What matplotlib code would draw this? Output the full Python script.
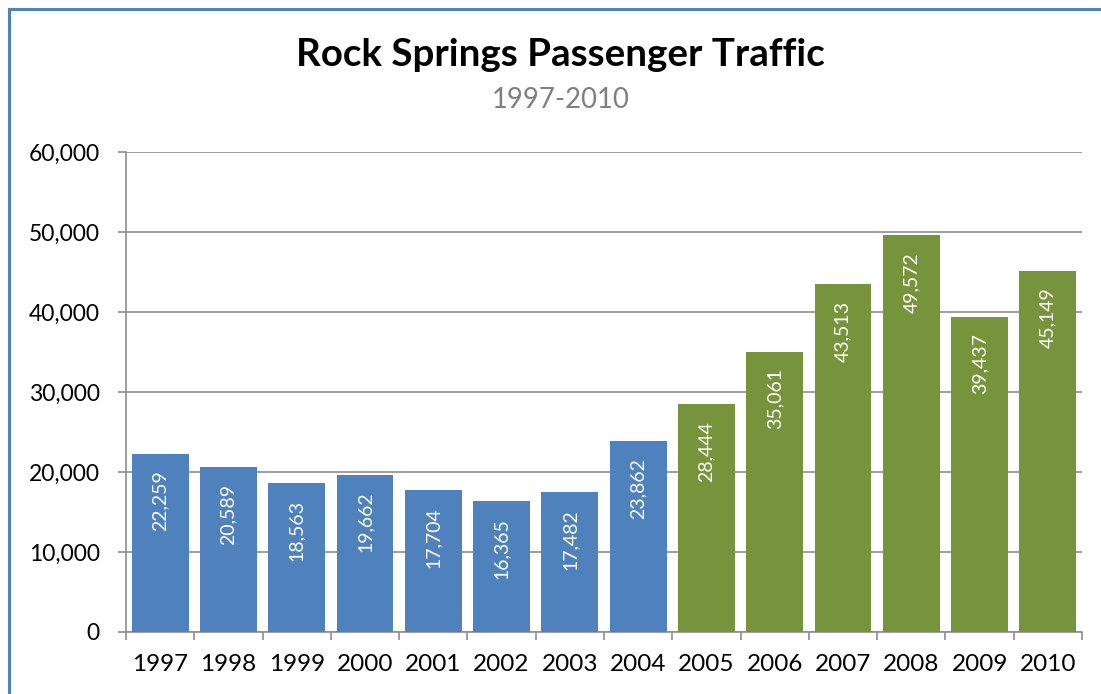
import matplotlib
matplotlib.use("Agg")
import matplotlib.pyplot as plt
from matplotlib.lines import Line2D
from matplotlib.ticker import FuncFormatter, FixedLocator

years = ["1997", "1998", "1999", "2000", "2001", "2002", "2003",
         "2004", "2005", "2006", "2007", "2008", "2009", "2010"]
passengers = [22259, 20589, 18563, 19662, 17704, 16365, 17482,
              23862, 28444, 35061, 43513, 49572, 39437, 45149]
blue_years = 8  # 1997-2004 blue, 2005-2010 green

title = "Rock Springs Passenger Traffic"
subtitle = "1997-2010"

plt.rcParams['font.family'] = ['Lato', 'DejaVu Sans']

fig = plt.figure(figsize=(11.01, 6.94), dpi=100)
ax = fig.add_axes([126/1101, 1-632/694, (1082-126)/1101, (632-152)/694])

colors = ["#4F81BD" if i < blue_years else "#77933C" for i in range(len(years))]
x = list(range(len(years)))
ax.bar(x, passengers, width=0.833, color=colors, zorder=3)

for xi, v in zip(x, passengers):
    ax.annotate(f"{v:,}", (xi, v), xytext=(0, -12), textcoords="offset points",
                rotation=90, ha="center", va="top", color="white", fontsize=14, zorder=4)

ax.set_xlim(-0.5, len(years) - 0.5)
ax.set_ylim(0, 60000)
ax.set_yticks(range(0, 60001, 10000))
ax.yaxis.set_major_formatter(FuncFormatter(lambda v, p: f"{int(v):,}"))
ax.yaxis.grid(True, color="#8e8e8e", linewidth=1.2, zorder=0)
ax.set_axisbelow(True)

ax.set_xticks(x)
ax.set_xticklabels(years)
ax.xaxis.set_minor_locator(FixedLocator([i - 0.5 for i in range(len(years) + 1)]))
ax.tick_params(axis="x", which="major", length=0, pad=16, labelsize=17.5)
ax.tick_params(axis="x", which="minor", length=6, width=1.2, color="#8e8e8e", direction="out")
ax.tick_params(axis="y", which="major", length=6, width=1.2, color="#8e8e8e", pad=13, labelsize=16.5)

for s in ["top", "right"]:
    ax.spines[s].set_visible(False)
for s in ["left", "bottom"]:
    ax.spines[s].set_color("#8e8e8e")
    ax.spines[s].set_linewidth(1.2)

fig.text(0.509, 1-55/694, title, ha="center", va="center", fontsize=27.7, fontweight="bold", color="black")
fig.text(0.509, 1-100/694, subtitle, ha="center", va="center", fontsize=19.8, color="#808080")

# frame border (left and top)
bc = "#4F81BD"
fig.add_artist(Line2D([9/1101, 9/1101], [0, 1-8.5/694], transform=fig.transFigure, color=bc, linewidth=2.2))
fig.add_artist(Line2D([9/1101, 1], [1-8.5/694, 1-8.5/694], transform=fig.transFigure, color=bc, linewidth=2.2))

fig.savefig("out.png", dpi=100, facecolor="white")
